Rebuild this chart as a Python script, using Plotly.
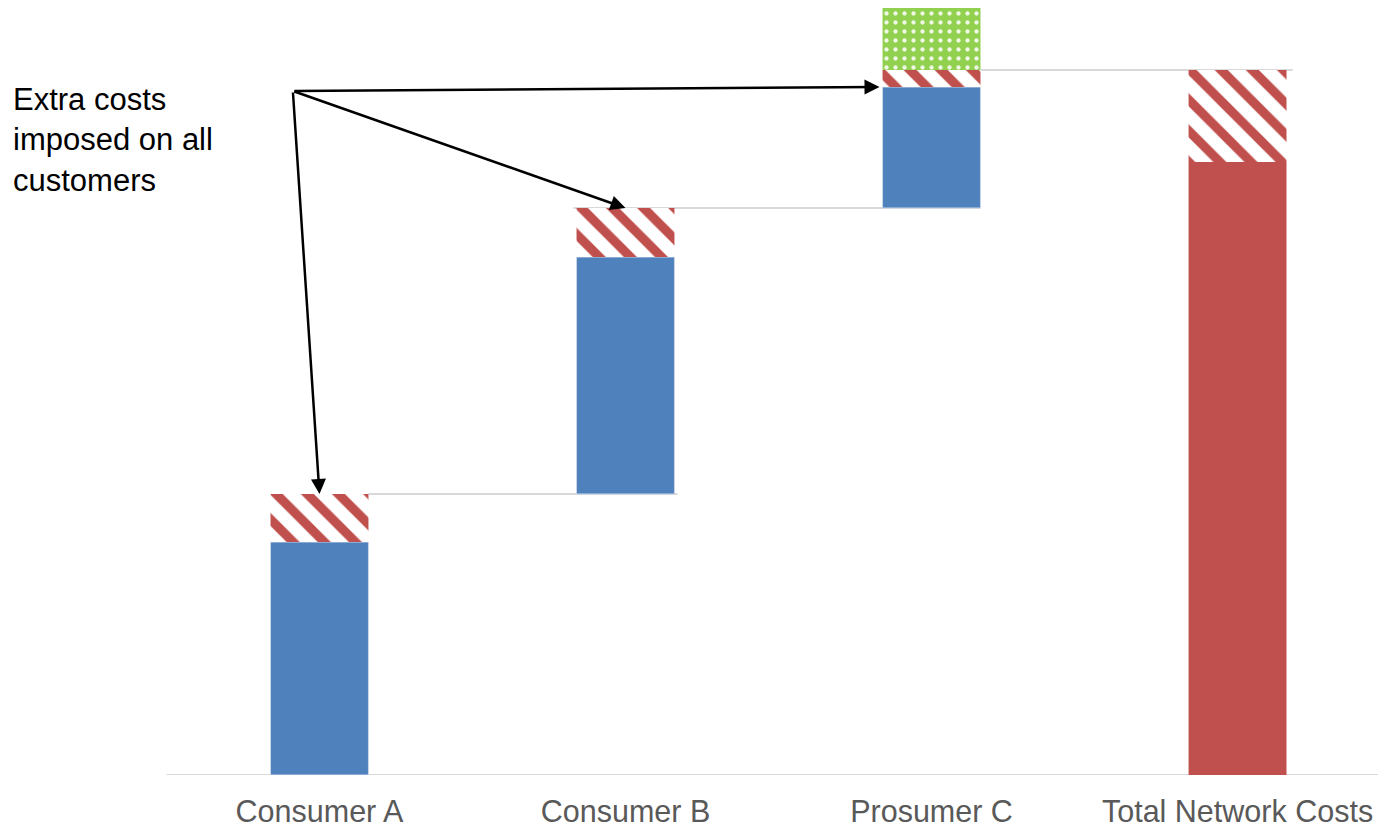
import plotly.graph_objects as go

# Cost build-up per customer (arbitrary cost units)
categories = ["Consumer A", "Consumer B", "Prosumer C", "Total Network Costs"]
own_costs = [233, 237, 121]          # network costs caused by each customer
extra_costs = [48, 49, 17, 92]       # extra costs imposed on all customers
generation_offset = [62]             # prosumer's own generation (Prosumer C)
network_costs = [613]                # base network costs in the total

BLUE = "#4f81bd"
RED = "#c0504d"
GREEN = "#92d050"
GRID = "#d9d9d9"

# Waterfall starting level of each customer bar
starts = []
level = 0
for own, extra in zip(own_costs, extra_costs[:3]):
    starts.append(level)
    level += own + extra
tops = [s + o + e for s, o, e in zip(starts, own_costs, extra_costs[:3])]
total_top = network_costs[0] + extra_costs[3]

bar_w = 0.32
fig = go.Figure()

fig.add_trace(go.Bar(
    x=categories[:3], y=own_costs, base=starts, width=bar_w,
    marker=dict(color=BLUE, opacity=1, line=dict(width=1, color="#c9d6e8")),
    showlegend=False,
))
fig.add_trace(go.Bar(
    x=categories[3:], y=network_costs, base=[0], width=bar_w,
    marker=dict(color=RED, opacity=1, line=dict(width=0)),
    showlegend=False,
))
extra_base = [s + o for s, o in zip(starts, own_costs)] + [network_costs[0]]
fig.add_trace(go.Bar(
    x=categories, y=extra_costs, base=extra_base, width=bar_w,
    marker=dict(
        color="white", opacity=1, line=dict(width=0),
        pattern=dict(shape="\\", fgcolor=RED, bgcolor="white", fgopacity=1,
                     size=22, solidity=0.42),
    ),
    showlegend=False,
))
fig.add_trace(go.Bar(
    x=[categories[2]], y=generation_offset, base=[tops[2]], width=bar_w,
    marker=dict(
        color=GREEN, opacity=1, line=dict(width=0),
        pattern=dict(shape=".", fgcolor="white", fgopacity=0.85,
                     bgcolor=GREEN, size=9, solidity=0.18),
    ),
    showlegend=False,
))

# Connector lines between waterfall steps and the baseline
shapes = [
    dict(type="line", xref="x", yref="y", x0=-0.5, x1=3.5, y0=0, y1=0,
         line=dict(color=GRID, width=2), layer="below"),
    dict(type="line", xref="x", yref="y", x0=0.16, x1=1.17, y0=tops[0], y1=tops[0],
         line=dict(color=GRID, width=2), layer="below"),
    dict(type="line", xref="x", yref="y", x0=0.83, x1=2.16, y0=tops[1], y1=tops[1],
         line=dict(color=GRID, width=2), layer="below"),
    dict(type="line", xref="x", yref="y", x0=2.16, x1=3.18, y0=total_top, y1=total_top,
         line=dict(color=GRID, width=2), layer="below"),
]

# Callout text with arrows to the extra-cost segments
tail_x, tail_y = -0.087, 684
arrow_targets = [
    (0, tops[0]),
    (1, tops[1]),
    (2 - bar_w / 2 - 0.01, starts[2] + own_costs[2]),
]
annotations = [
    dict(x=11 / 1378, y=1 - 140 / 775, xref="paper", yref="paper",
         xanchor="left", yanchor="middle", align="left", showarrow=False,
         text="Extra costs<br>imposed on all<br>customers",
         font=dict(family="Liberation Sans, Arial, sans-serif", size=31, color="black")),
]
for tx, ty in arrow_targets:
    annotations.append(dict(
        x=tx, y=ty, xref="x", yref="y", ax=tail_x, ay=tail_y,
        axref="x", ayref="y", text="", showarrow=True,
        arrowhead=2, arrowsize=1.2, arrowwidth=2.5, arrowcolor="black",
    ))

fig.update_layout(
    width=1378, height=830,
    margin=dict(l=0, r=0, t=0, b=55, autoexpand=False),
    barmode="overlay",
    plot_bgcolor="white", paper_bgcolor="white",
    shapes=shapes, annotations=annotations,
    xaxis=dict(
        type="category", range=[-1.044, 3.459], automargin=False,
        showgrid=False, showline=False, zeroline=False,
        ticks="outside", ticklen=9, tickcolor="rgba(0,0,0,0)",
        tickfont=dict(family="Liberation Sans, Arial, sans-serif", size=30.5, color="#595959"),
    ),
    yaxis=dict(
        range=[0, 775], showgrid=False, showticklabels=False, automargin=False,
        zeroline=False, showline=False, fixedrange=True,
    ),
)

fig.write_html("out.html")
